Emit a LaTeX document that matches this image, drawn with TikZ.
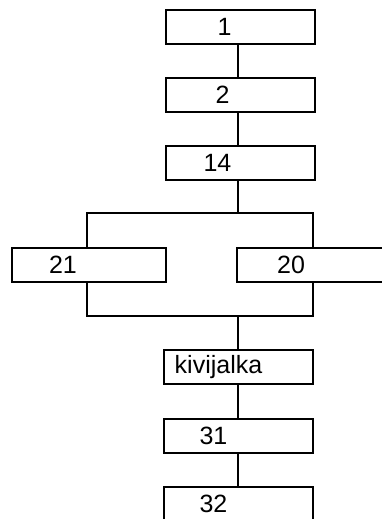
\documentclass[tikz,border=0pt]{standalone}
\usepackage{fontspec}
\setmainfont{Liberation Sans}
\usepackage{tikz}
\usetikzlibrary{positioning}
\usetikzlibrary{calc}

\tikzset{
	blok/.style={draw, line width=2pt, rectangle, inner sep=0pt,
		minimum width=149pt, minimum height=34pt},
	lin/.style={line width=2pt},
	lbl/.style={font=\fontsize{25}{29}\selectfont, inner sep=0pt}
}

\begin{document}
\begin{tikzpicture}[x=1pt, y=-1pt]

	\useasboundingbox (0,0) rectangle (382,519);
	\clip (0,0) rectangle (382,519);

	% top column of blocks
	\node[blok, label={[lbl, xshift=-16pt]center:1}] (B1) at (240.5,27) {};
	\node[blok, label={[lbl, xshift=-18pt]center:2}] (B2) at (240.5,95) {};
	\node[blok, label={[lbl, xshift=-23pt]center:14}] (B14) at (240.5,163) {};

	% the two parallel blocks
	\node[blok, minimum width=154pt, label={[lbl, xshift=-26pt]center:21}] (B21) at (89,265) {};
	\node[blok, minimum width=160pt, label={[lbl, xshift=-26pt]center:20}] (B20) at (317,265) {};

	% bottom column of blocks
	\node[blok, label={[lbl, xshift=-20pt]center:kivijalka}] (BK) at (238.5,367) {};
	\node[blok, label={[lbl, xshift=-25pt]center:31}] (B31) at (238.5,436) {};
	\node[blok, label={[lbl, xshift=-25pt]center:32}] (B32) at (238.5,504) {};

	% split and join points
	\coordinate (S) at (238,213);
	\coordinate (SL) at (87,213);
	\coordinate (SR) at (313,213);
	\coordinate (J) at (238,316);
	\coordinate (JL) at (87,316);
	\coordinate (JR) at (313,316);

	% connectors
	\draw[lin] (B1.south -| S) -- (B2.north -| S);
	\draw[lin] (B2.south -| S) -- (B14.north -| S);
	\draw[lin] (B14.south -| S) -- (S);
	\draw[lin] (SL |- B21.north) -- (SL) -- (SR) -- (SR |- B20.north);
	\draw[lin] (JL |- B21.south) -- (JL) -- (JR) -- (JR |- B20.south);
	\draw[lin] (J) -- (BK.north -| J);
	\draw[lin] (BK.south -| J) -- (B31.north -| J);
	\draw[lin] (B31.south -| J) -- (B32.north -| J);

\end{tikzpicture}
\end{document}
